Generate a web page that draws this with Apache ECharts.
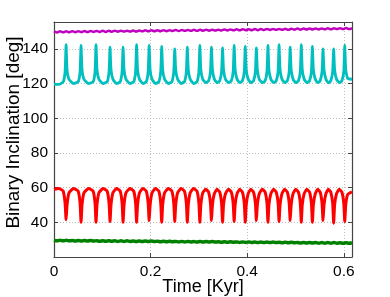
<!DOCTYPE html>
<html><head><meta charset="utf-8">
<script src="https://cdn.jsdelivr.net/npm/echarts@6/dist/echarts.min.js"></script>
<style>html,body{margin:0;padding:0;background:#fff}#c{width:390px;height:297px}</style>
</head><body><div id="c"></div>
<script>
// Oscillating series sample times (Kyr)
const tOsc = [0, 0.010,
 0.019,0.023,0.025,0.027,0.031,0.0405,
 0.050,0.054,0.056,0.058,0.062,0.0715,
 0.081,0.085,0.087,0.089,0.093,0.1015,
 0.110,0.114,0.116,0.118,0.122,0.1295,
 0.137,0.141,0.143,0.145,0.149,0.157,
 0.165,0.169,0.171,0.173,0.177,0.184,
 0.191,0.195,0.197,0.199,0.203,0.210,
 0.217,0.221,0.223,0.225,0.229,0.2365,
 0.244,0.248,0.250,0.252,0.256,0.263,
 0.270,0.274,0.276,0.278,0.282,0.289,
 0.296,0.300,0.302,0.304,0.308,0.314,
 0.320,0.324,0.326,0.328,0.332,0.3375,
 0.343,0.347,0.349,0.351,0.355,0.361,
 0.367,0.371,0.373,0.375,0.379,0.3845,
 0.390,0.394,0.396,0.398,0.402,0.4075,
 0.413,0.417,0.419,0.421,0.425,0.431,
 0.437,0.441,0.443,0.445,0.449,0.4545,
 0.460,0.464,0.466,0.468,0.472,0.4775,
 0.483,0.487,0.489,0.491,0.495,0.5005,
 0.506,0.510,0.512,0.514,0.518,0.5235,
 0.529,0.533,0.535,0.537,0.541,0.546,
 0.551,0.555,0.557,0.559,0.563,0.568,
 0.573,0.577,0.579,0.581,0.585,0.5905,
 0.596,0.600,0.602,0.604,0.608,0.617];

const cyanVals = [119.5, 119.5,
 121,127,142.5,128,122.5,120,
 121,127,142,128,122.5,120,
 121,127,142.5,128,122.5,120,
 121,127,141,128,122.5,120,
 121,127,141,128,122.5,120,
 121,127,142.5,128,122.5,120,
 121,127,142,128,122.5,120,
 121,127,141.5,128,122.5,120,
 121,127,140,128,122.5,120,
 121,127,141,128,122.5,120,
 121,127,142,128,122.5,120.5,
 121.5,127,141,128,122.5,120.5,
 121.5,127,140.5,128,122.5,120.5,
 121.5,127,142,128,122.5,120.5,
 121.5,127,141.5,128,122.5,120.5,
 121.5,127,140.5,128,122.5,120.5,
 121.5,127,142,128,122.5,120.5,
 121.5,127,142.5,128,122.5,120.5,
 121.5,127,141,128,122.5,120.5,
 121.5,127,142.5,128,122.5,120.5,
 121.5,127,141.5,128,122.5,120.5,
 121.5,127,140,128,122.5,120.5,
 121.5,127,140,128,122.5,120.5,
 121.5,127,142,128,123,122.5];

const redVals = [59, 59.5,
 58,51,41.5,50,57,59.5,
 58,51,40,50,57,59.5,
 58,51,40,50,57,59.5,
 58,51,40.5,50,57,59.5,
 58,51,40,50,57,59.5,
 58,51,40,50,57,59.5,
 58,51,41,50,57,59.5,
 58,51,40,50,57,59.5,
 58,51,40.5,50,57,59.5,
 58,51,40,50,57,59.5,
 58,51,40,50,57,59,
 57.5,51,41,50,56.5,59,
 57.5,51,40,50,56.5,59,
 57.5,51,40.5,50,56.5,59,
 57.5,51,40,50,56.5,59,
 57.5,51,41,50,56.5,59,
 57.5,51,40,50,56.5,59,
 57.5,51,40.5,50,56.5,59,
 57.5,51,41,50,56.5,59,
 57.5,51,40,50,56.5,59,
 57.5,51,40,50,56.5,59,
 57.5,51,41,50,56.5,59,
 57.5,51,39.5,50,56.5,59,
 57.5,51,40.5,50,56,57.5];

// Slowly drifting series sample times (Kyr)
const tFine = [0,.0063,.0126,.0189,.0252,.0315,.0378,.0441,.0504,.0567,
 .0630,.0693,.0756,.0819,.0882,.0945,.1008,.1071,.1134,.1197,
 .1260,.1323,.1386,.1449,.1512,.1575,.1638,.1701,.1764,.1827,
 .1890,.1953,.2016,.2079,.2142,.2205,.2268,.2331,.2394,.2457,
 .2520,.2583,.2646,.2709,.2772,.2835,.2898,.2961,.3024,.3087,
 .3150,.3213,.3276,.3339,.3402,.3465,.3528,.3591,.3654,.3717,
 .3780,.3843,.3906,.3969,.4032,.4095,.4158,.4221,.4284,.4347,
 .4410,.4473,.4536,.4599,.4662,.4725,.4788,.4851,.4914,.4977,
 .5040,.5103,.5166,.5229,.5292,.5355,.5418,.5481,.5544,.5607,
 .5670,.5733,.5796,.5859,.5922,.5985,.6048,.6111,.6170];

const magentaVals = [150.1,149.5,150.1,149.6,150.1,149.6,150.2,149.6,150.2,149.7,
 150.3,149.7,150.3,149.8,150.3,149.8,150.4,149.8,150.4,149.9,
 150.5,149.9,150.5,150.0,150.5,150.0,150.6,150.0,150.6,150.1,
 150.7,150.1,150.7,150.2,150.7,150.2,150.8,150.2,150.8,150.3,
 150.9,150.3,150.9,150.4,150.9,150.4,151.0,150.4,151.0,150.5,
 151.1,150.5,151.1,150.6,151.1,150.6,151.2,150.6,151.2,150.7,
 151.3,150.7,151.3,150.8,151.3,150.8,151.4,150.8,151.4,150.9,
 151.5,150.9,151.5,151.0,151.5,151.0,151.6,151.0,151.6,151.1,
 151.7,151.1,151.7,151.2,151.7,151.2,151.8,151.2,151.8,151.3,
 151.9,151.3,151.9,151.4,151.9,151.4,152.0,151.4,152.0];

const greenVals = [29.6,29.3,29.6,29.3,29.6,29.3,29.5,29.2,29.5,29.2,
 29.5,29.2,29.5,29.2,29.4,29.1,29.4,29.1,29.4,29.1,
 29.3,29.0,29.3,29.0,29.3,29.0,29.2,28.9,29.2,28.9,
 29.2,28.9,29.2,28.9,29.1,28.8,29.1,28.8,29.1,28.8,
 29.0,28.7,29.0,28.7,29.0,28.7,28.9,28.6,28.9,28.6,
 28.9,28.6,28.9,28.6,28.8,28.5,28.8,28.5,28.8,28.5,
 28.7,28.4,28.7,28.4,28.7,28.4,28.6,28.3,28.6,28.3,
 28.6,28.3,28.6,28.3,28.5,28.2,28.5,28.2,28.5,28.2,
 28.4,28.1,28.4,28.1,28.4,28.1,28.3,28.0,28.3,28.0,
 28.3,28.0,28.3,28.0,28.2,27.9,28.2,27.9,28.2];

const xTicks = [0, 0.2, 0.4, 0.6];
const yTicks = [40, 60, 80, 100, 120, 140];

const zip = (t, v) => t.map((x, i) => [x, v[i]]);
const FONT = 'Liberation Sans, Arial, Helvetica, sans-serif';
const axisCol = '#444';

const chart = echarts.init(document.getElementById('c'), null, {renderer: 'canvas'});
const near = (v, arr) => arr.some(a => Math.abs(a - v) < 1e-6);
const line = (data, color, w, sm) => ({
  type: 'line', data, showSymbol: false, symbol: 'none', smooth: sm,
  lineStyle: {color, width: w}, xAxisIndex: 0, yAxisIndex: 0, z: 3
});

chart.setOption({
  animation: false,
  backgroundColor: '#fff',
  grid: {left: 54, right: 38, top: 22, bottom: 40, containLabel: false, outerBoundsMode: 'none'},
  xAxis: [{
    type: 'value', min: 0, max: 0.617, interval: 0.2,
    axisLine: {show: true, lineStyle: {color: axisCol, width: 1.2}},
    axisTick: {show: true, inside: true, length: 4, lineStyle: {color: axisCol}},
    splitLine: {show: true, lineStyle: {color: '#bdbdbd', type: [1, 2], width: 1}},
    axisLabel: {fontFamily: FONT, fontSize: 15.5, color: '#000', margin: 7,
      formatter: v => near(v, xTicks) ? (v === 0 ? '0' : v.toFixed(1)) : ''},
    name: 'Time [Kyr]', nameLocation: 'middle', nameGap: 21, nameMoveOverlap: false,
    nameTextStyle: {fontFamily: FONT, fontSize: 18, color: '#000'}
  }, {
    type: 'value', position: 'top', min: 0, max: 0.617, interval: 0.2,
    axisLine: {show: true, onZero: false, lineStyle: {color: axisCol, width: 1.2}},
    axisTick: {show: true, inside: true, length: 4, lineStyle: {color: axisCol}},
    axisLabel: {show: false}, splitLine: {show: false}
  }],
  yAxis: [{
    type: 'value', min: 20, max: 155.5, interval: 20,
    axisLine: {show: true, lineStyle: {color: axisCol, width: 1.2}},
    axisTick: {show: true, inside: true, length: 4, lineStyle: {color: axisCol}},
    splitLine: {show: true, lineStyle: {color: '#bdbdbd', type: [1, 2], width: 1}},
    axisLabel: {fontFamily: FONT, fontSize: 15.5, color: '#000', margin: 6,
      formatter: v => near(v, yTicks) ? String(v) : ''},
    name: 'Binary Inclination [deg]', nameLocation: 'middle', nameGap: 31, nameMoveOverlap: false,
    nameTextStyle: {fontFamily: FONT, fontSize: 19, color: '#000', padding: [0, 0, 0, 14]}
  }, {
    type: 'value', position: 'right', min: 20, max: 155.5, interval: 20,
    axisLine: {show: true, onZero: false, lineStyle: {color: axisCol, width: 1.2}},
    axisTick: {show: true, inside: true, length: 4, lineStyle: {color: axisCol}},
    axisLabel: {show: false}, splitLine: {show: false}
  }],
  series: [
    line(zip(tFine, magentaVals), '#bf00bf', 2.5, 0.3),
    line(zip(tOsc, cyanVals), '#00bfbf', 2.8, 0.15),
    line(zip(tOsc, redVals), '#ff0000', 3, 0.15),
    line(zip(tFine, greenVals), '#008000', 3.5, 0.3)
  ]
});
</script></body></html>
